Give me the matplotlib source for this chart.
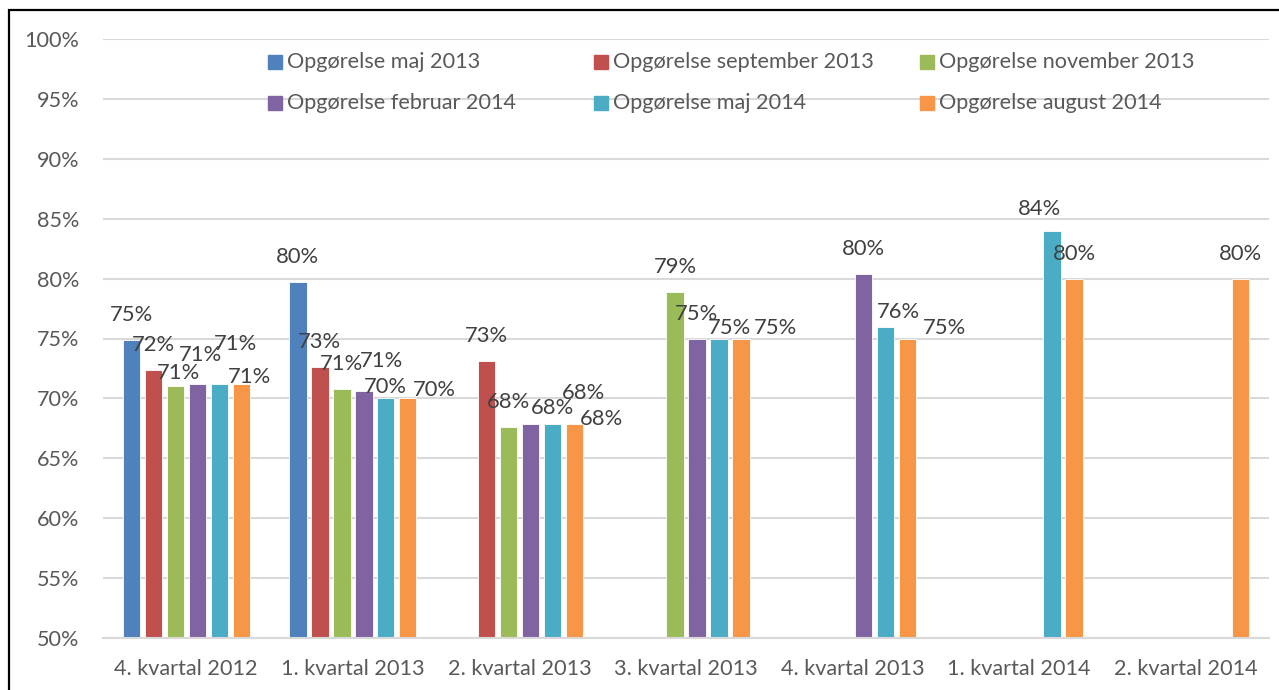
import math

import matplotlib

matplotlib.use("Agg")
import matplotlib.pyplot as plt  # noqa: E402
from matplotlib.patches import Rectangle  # noqa: E402

plt.rcParams["font.family"] = ["Lato", "DejaVu Sans"]

nan = math.nan

categories = [
    "4. kvartal 2012",
    "1. kvartal 2013",
    "2. kvartal 2013",
    "3. kvartal 2013",
    "4. kvartal 2013",
    "1. kvartal 2014",
    "2. kvartal 2014",
]
series_names = [
    "Opgørelse maj 2013",
    "Opgørelse september 2013",
    "Opgørelse november 2013",
    "Opgørelse februar 2014",
    "Opgørelse maj 2014",
    "Opgørelse august 2014",
]
maj_2013 = [74.9, 79.7, nan, nan, nan, nan, nan]
sep_2013 = [72.4, 72.6, 73.1, nan, nan, nan, nan]
nov_2013 = [71.0, 70.8, 67.6, 78.9, nan, nan, nan]
feb_2014 = [71.2, 70.6, 67.9, 75.0, 80.4, nan, nan]
maj_2014 = [71.2, 70.0, 67.9, 75.0, 76.0, 84.0, nan]
aug_2014 = [71.2, 70.0, 67.9, 75.0, 75.0, 80.0, 80.0]
series_values = [maj_2013, sep_2013, nov_2013, feb_2014, maj_2014, aug_2014]

colors = ["#4F81BD", "#C0504D", "#9BBB59", "#8064A2", "#4BACC6", "#F79646"]

# label nudges (pixels) where the source chart has labels moved off the default spot
label_default = (0, 25)
label_nudge = {
    (0, 2): (3, 13), (0, 3): (3, 29), (0, 4): (16, 40), (0, 5): (8, 7),
    (1, 3): (18, 30), (1, 4): (0, 11), (1, 5): (27, 8),
    (2, 3): (22, 16), (2, 4): (31, 31), (2, 5): (27, 5),
    (3, 4): (11, 11), (3, 5): (35, 11),
    (4, 4): (13, 15), (4, 5): (37, 10),
    (5, 4): (-13, 22),
}

W, H = 1279, 690
fig = plt.figure(figsize=(W / 100, H / 100), dpi=100)
ax = fig.add_axes([103 / W, 52 / H, 1166 / W, 599 / H])

step = 0.132
bar_w = 0.104
grid_c = "#D9D9D9"
text_c = "#404040"
tick_c = "#595959"

for s, (vals, col) in enumerate(zip(series_values, colors)):
    xs = [c + (s - 2.5) * step for c in range(len(categories))]
    heights = [v / 100 - 0.5 if not math.isnan(v) else 0 for v in vals]
    ax.bar(xs, heights, bottom=0.5, width=bar_w, color=col,
           edgecolor="white", linewidth=0.6, zorder=3)
    for c, v in enumerate(vals):
        if math.isnan(v):
            continue
        off = label_nudge.get((c, s), label_default)
        ax.annotate(f"{v:.0f}%", (xs[c], v / 100), xytext=off,
                    textcoords="offset pixels", ha="center", va="center",
                    fontsize=15.8, color=text_c, zorder=5)

ax.set_xlim(-0.5, len(categories) - 0.5)
ax.set_ylim(0.5, 1.0)
ax.set_yticks([0.5 + 0.05 * i for i in range(11)])
ax.set_yticklabels([f"{50 + 5 * i}%" for i in range(11)])
ax.set_xticks(range(len(categories)))
ax.set_xticklabels(categories)
ax.tick_params(axis="both", length=0, labelsize=15.6, colors=tick_c)
ax.tick_params(axis="y", pad=17)
ax.tick_params(axis="x", pad=15)
ax.grid(axis="y", color=grid_c, linewidth=1.5, zorder=0)
for side in ("top", "right", "left"):
    ax.spines[side].set_visible(False)
ax.spines["bottom"].set_color(grid_c)
ax.spines["bottom"].set_linewidth(1.5)
ax.spines["bottom"].set_zorder(4)

# legend laid out like the source: 3 equal-width columns, 2 rows
for i, (name, col) in enumerate(zip(series_names, colors)):
    r, c = divmod(i, 3)
    x0 = 268 + 326 * c
    yc = 62 + 41 * r
    fig.add_artist(Rectangle((x0 / W, 1 - (yc + 7) / H), 14 / W, 14 / H,
                             transform=fig.transFigure, color=col, zorder=6))
    fig.text((x0 + 19) / W, 1 - yc / H, name, ha="left", va="center",
             fontsize=15.6, color=tick_c, zorder=6)

# outer chart frame (runs off the right and bottom edges)
fig.add_artist(Rectangle((9 / W, -0.1), 1.2, 1 - 10 / H + 0.1,
                         transform=fig.transFigure, fill=False,
                         edgecolor="black", linewidth=1.6, zorder=10))

fig.savefig("out.png", dpi=100, facecolor="white")
